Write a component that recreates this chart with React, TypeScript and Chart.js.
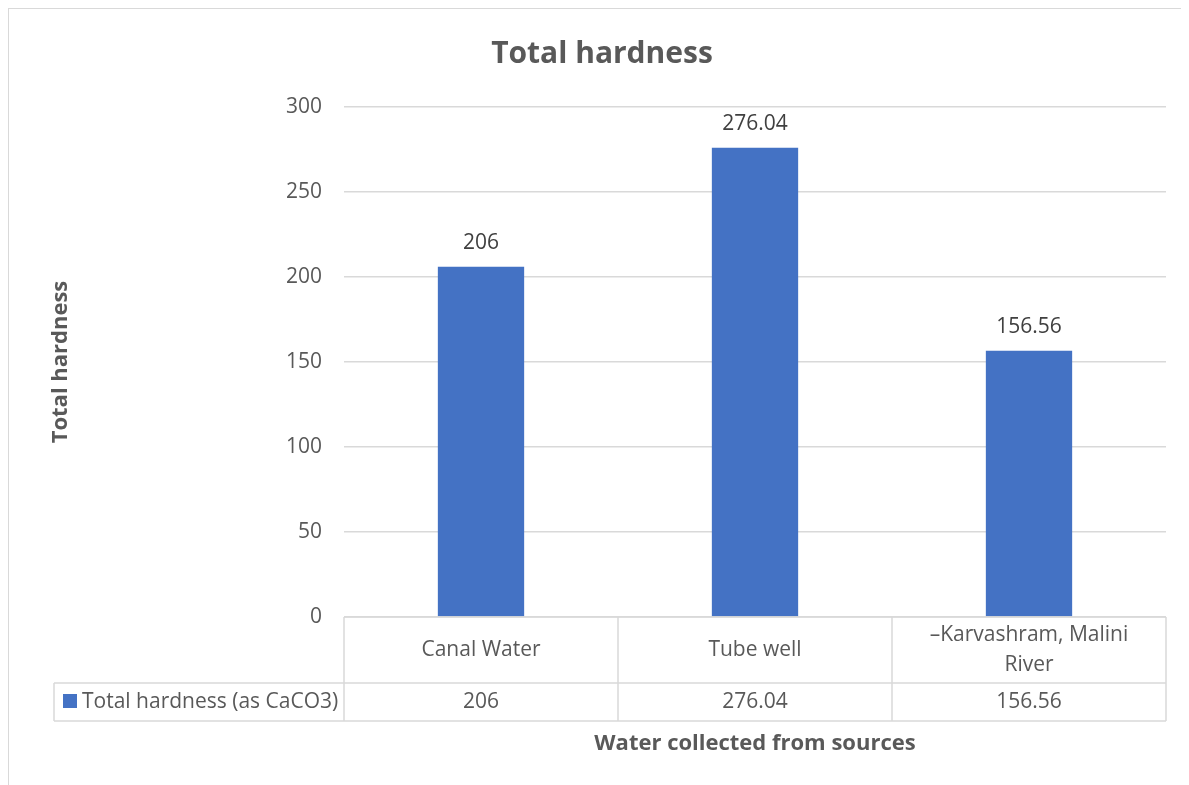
import React, { useEffect, useRef } from "react";
import { Chart, registerables } from "chart.js";

Chart.register(...registerables);

const chartTitle = "Total hardness";
const yAxisTitle = "Total hardness";
const xAxisTitle = "Water collected from sources";
const categories = ["Canal Water", "Tube well", "–Karvashram, Malini River"];
const seriesName = "Total hardness (as CaCO3)";
const seriesValues = [206, 276.04, 156.56];
const valueLabels = ["206", "276.04", "156.56"];
const yTicks = [0, 50, 100, 150, 200, 250, 300];

const FONT = "'Open Sans', 'DejaVu Sans', sans-serif";
const TEXT = "#595959";
const GRID = "#d9d9d9";
const BAR = "#4472C4";

function wrapText(ctx: CanvasRenderingContext2D, text: string, maxW: number): string[] {
  const words = text.split(" ");
  const lines: string[] = [];
  let cur = "";
  for (const w of words) {
    const test = cur ? cur + " " + w : w;
    if (ctx.measureText(test).width > maxW && cur) {
      lines.push(cur);
      cur = w;
    } else cur = test;
  }
  if (cur) lines.push(cur);
  return lines;
}

const extrasPlugin = {
  id: "extras",
  afterDraw(chart: any) {
    const ctx: CanvasRenderingContext2D = chart.ctx;
    const area = chart.chartArea;
    const xScale = chart.scales.x;
    const n = categories.length;
    const colW = (area.right - area.left) / n;
    ctx.save();

    // Title
    ctx.fillStyle = TEXT;
    ctx.font = `bold 30px ${FONT}`;
    ctx.textAlign = "center";
    ctx.textBaseline = "middle";
    ctx.fillText(chartTitle, chart.width / 2 + 3, 45);

    // Y axis title
    ctx.save();
    ctx.translate(52, (area.top + area.bottom) / 2);
    ctx.rotate(-Math.PI / 2);
    ctx.font = `bold 22px ${FONT}`;
    ctx.fillText(yAxisTitle, 0, 0);
    ctx.restore();

    // Data labels
    const meta = chart.getDatasetMeta(0);
    ctx.fillStyle = "#404040";
    ctx.font = `21px ${FONT}`;
    meta.data.forEach((bar: any, i: number) => {
      ctx.fillText(valueLabels[i], bar.x, bar.y - 24);
    });

    // Data table
    const headTop = area.bottom;
    const headBottom = headTop + 66;
    const rowBottom = headBottom + 38;
    const legendLeft = 45;
    ctx.strokeStyle = GRID;
    ctx.lineWidth = 1.5;
    ctx.beginPath();
    ctx.moveTo(area.left, headTop);
    ctx.lineTo(area.right, headTop);
    ctx.moveTo(legendLeft, headBottom);
    ctx.lineTo(area.right, headBottom);
    ctx.moveTo(legendLeft, rowBottom);
    ctx.lineTo(area.right, rowBottom);
    ctx.moveTo(legendLeft, headBottom);
    ctx.lineTo(legendLeft, rowBottom);
    for (let i = 0; i <= n; i++) {
      const x = area.left + i * colW;
      ctx.moveTo(x, headTop);
      ctx.lineTo(x, rowBottom);
    }
    ctx.stroke();

    ctx.fillStyle = TEXT;
    ctx.font = `21px ${FONT}`;
    for (let i = 0; i < n; i++) {
      const cx = xScale.getPixelForValue(i);
      const lines = wrapText(ctx, categories[i], colW - 40);
      const lh = 30;
      const cy = (headTop + headBottom) / 2;
      lines.forEach((ln, j) => {
        ctx.fillText(ln, cx, cy + (j - (lines.length - 1) / 2) * lh);
      });
      ctx.fillText(valueLabels[i], cx, (headBottom + rowBottom) / 2);
    }

    // Legend key cell
    ctx.fillStyle = BAR;
    ctx.fillRect(54, 685, 14, 14);
    ctx.fillStyle = TEXT;
    ctx.textAlign = "left";
    ctx.fillText(seriesName, 73, (headBottom + rowBottom) / 2);

    // X axis title
    ctx.textAlign = "center";
    ctx.font = `bold 22px ${FONT}`;
    ctx.fillText(xAxisTitle, (area.left + area.right) / 2, 735);

    ctx.restore();
  },
};

export default function App() {
  const ref = useRef<HTMLCanvasElement | null>(null);
  useEffect(() => {
    if (!ref.current) return;
    const chart = new Chart(ref.current, {
      type: "bar",
      data: {
        labels: categories,
        datasets: [
          {
            label: seriesName,
            data: seriesValues,
            backgroundColor: BAR,
            borderWidth: 0,
            categoryPercentage: 1,
            barPercentage: 0.315,
          },
        ],
      },
      options: {
        responsive: false,
        animation: false,
        layout: { padding: { top: 98, left: 0, right: 23, bottom: 168 } },
        plugins: {
          legend: { display: false },
          title: { display: false },
          tooltip: { enabled: false },
        },
        scales: {
          x: { display: false },
          y: {
            min: 0,
            max: 300,
            afterFit: (s: any) => {
              s.width = 335;
            },
            afterBuildTicks: (s: any) => {
              s.ticks = yTicks.map((v) => ({ value: v }));
            },
            ticks: {
              color: TEXT,
              font: { family: FONT, size: 21 },
              padding: 22,
            },
            grid: { color: GRID, lineWidth: 1.5, drawTicks: false },
            border: { display: false },
          },
        },
      },
      plugins: [extrasPlugin],
    });
    return () => chart.destroy();
  }, []);
  return (
    <div
      style={{
        width: 1181,
        height: 777,
        borderTop: "1px solid #d9d9d9",
        borderLeft: "1px solid #d9d9d9",
        boxSizing: "border-box",
        overflow: "hidden",
      }}
    >
      <canvas ref={ref} width={1180} height={776} style={{ display: "block" }} />
    </div>
  );
}
